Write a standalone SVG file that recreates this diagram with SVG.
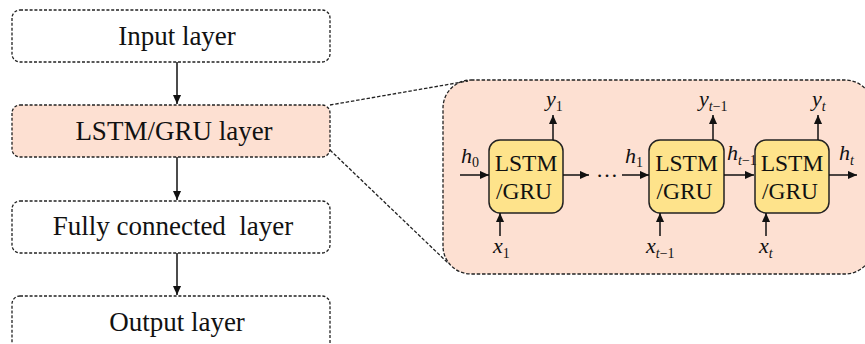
<svg xmlns="http://www.w3.org/2000/svg" width="865" height="344" viewBox="0 0 865 344">
<style>
.box{fill:#fff;stroke:#222;stroke-width:1.3;stroke-dasharray:3 1.8}
.hl{fill:#fde0d2}
.panel{fill:#fde0d2;stroke:#222;stroke-width:1.3;stroke-dasharray:3.5 1.8}
.cell{fill:#fee38b;stroke:#222;stroke-width:1.5}
.lbl{font-size:27px;text-anchor:middle}
.ct{font-size:23.5px;text-anchor:middle}
.v{font-style:italic;font-size:22px}
.s{font-size:14px;font-style:normal}
.si{font-size:14px}
.ar{stroke:#111;stroke-width:1.5;fill:none;marker-end:url(#ah)}
.dl{stroke:#222;stroke-width:1.3;stroke-dasharray:3.5 1.8;fill:none}
</style>
<defs>
<marker id="ah" viewBox="0 0 10 10" refX="10" refY="5" markerWidth="9" markerHeight="9" markerUnits="userSpaceOnUse" orient="auto">
<path d="M0,0.5 L10,5 L0,9.5 Z" fill="#111"/>
</marker>
</defs>

<g id="panel">
<rect class="panel" x="443" y="80" width="430" height="194" rx="28"/>
</g>

<g font-family="Liberation Serif, DejaVu Serif, serif" fill="#111">
<g id="input-layer">
<rect class="box" x="12" y="10" width="318" height="52" rx="8"/>
<text class="lbl" x="177" y="45">Input layer</text>
</g>
<g id="lstm-layer">
<rect class="box hl" x="12" y="105" width="318" height="52" rx="8"/>
<text class="lbl" x="174" y="140">LSTM/GRU layer</text>
</g>
<g id="fc-layer">
<rect class="box" x="12" y="201" width="318" height="52" rx="8"/>
<text class="lbl" x="173" y="235" xml:space="preserve">Fully connected  layer</text>
</g>
<g id="output-layer">
<rect class="box" x="12" y="296" width="318" height="60" rx="8"/>
<text class="lbl" x="177" y="331">Output layer</text>
</g>

<g id="cell1">
<rect class="cell" x="489" y="140" width="74" height="73" rx="11"/>
<text class="ct" x="526" y="171">LSTM</text>
<text class="ct" x="524" y="199">/GRU</text>
</g>
<g id="cell2">
<rect class="cell" x="649" y="140" width="75" height="73" rx="11"/>
<text class="ct" x="686.5" y="171">LSTM</text>
<text class="ct" x="684.5" y="199">/GRU</text>
</g>
<g id="cell3">
<rect class="cell" x="755" y="140" width="74" height="73" rx="11"/>
<text class="ct" x="792" y="171">LSTM</text>
<text class="ct" x="790" y="199">/GRU</text>
</g>

<g id="connectors">
<line class="ar" x1="177" y1="62" x2="177" y2="104"/>
<line class="ar" x1="177" y1="157" x2="177" y2="200"/>
<line class="ar" x1="177" y1="253" x2="177" y2="295"/>
<line class="dl" x1="330" y1="105" x2="468" y2="81"/>
<line class="dl" x1="330" y1="150" x2="448" y2="263"/>
<line class="ar" x1="460" y1="175" x2="489" y2="175"/>
<line class="ar" x1="563" y1="175" x2="589" y2="175"/>
<line class="ar" x1="622" y1="175" x2="649" y2="175"/>
<line class="ar" x1="724" y1="175" x2="754" y2="175"/>
<line class="ar" x1="829" y1="175" x2="857" y2="175"/>
<line class="ar" x1="553" y1="140" x2="553" y2="115"/>
<line class="ar" x1="713" y1="140" x2="713" y2="115"/>
<line class="ar" x1="818" y1="140" x2="818" y2="115"/>
<line class="ar" x1="500" y1="236" x2="500" y2="213"/>
<line class="ar" x1="660" y1="236" x2="660" y2="213"/>
<line class="ar" x1="766" y1="236" x2="766" y2="213"/>
</g>

<g id="labels">
<text class="v" x="461" y="163">h<tspan class="s" dy="4">0</tspan></text>
<text class="v" x="596" y="177" font-style="normal" style="font-style:normal">…</text>
<text class="v" x="625" y="163">h<tspan class="s" dy="4">1</tspan></text>
<text class="v" x="727" y="160">h<tspan class="si" dy="5">t</tspan><tspan class="s">−1</tspan></text>
<text class="v" x="839" y="160">h<tspan class="si" dy="5">t</tspan></text>
<text class="v" x="546" y="106">y<tspan class="s" dy="5">1</tspan></text>
<text class="v" x="699" y="106">y<tspan class="si" dy="5">t</tspan><tspan class="s">−1</tspan></text>
<text class="v" x="812" y="106">y<tspan class="si" dy="5">t</tspan></text>
<text class="v" x="493" y="253">x<tspan class="s" dy="5">1</tspan></text>
<text class="v" x="646" y="253">x<tspan class="si" dy="5">t</tspan><tspan class="s">−1</tspan></text>
<text class="v" x="759" y="253">x<tspan class="si" dy="5">t</tspan></text>
</g>
</g>
</svg>
